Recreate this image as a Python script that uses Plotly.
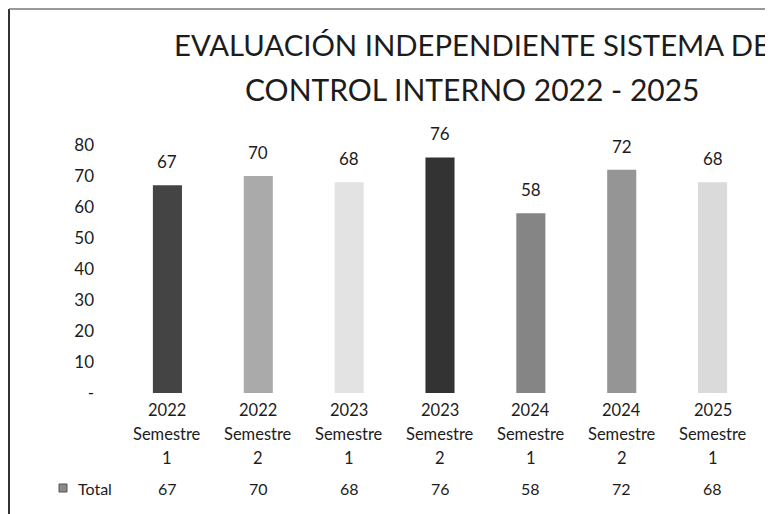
import plotly.graph_objects as go

categories = ["2022<br>Semestre<br>1", "2022<br>Semestre<br>2", "2023<br>Semestre<br>1",
              "2023<br>Semestre<br>2", "2024<br>Semestre<br>1", "2024<br>Semestre<br>2",
              "2025<br>Semestre<br>1"]
values = [67, 70, 68, 76, 58, 72, 68]
bar_colors = ["#444444", "#aaaaaa", "#e3e3e3", "#333333", "#858585", "#959595", "#dadada"]
y_ticks = [0, 10, 20, 30, 40, 50, 60, 70, 80]
y_ticktext = ["-", "10", "20", "30", "40", "50", "60", "70", "80"]
series_name = "Total"
title_lines = ["EVALUACIÓN INDEPENDIENTE SISTEMA DE", "CONTROL INTERNO 2022 - 2025"]

# page body has an 8px margin, so the figure is sized to fit the window
W, H = 765, 506
ML, MR, MT, MB = 114, 15, 137, 121
PW, PH = W - ML - MR, H - MT - MB
FONT = "Lato"
TXT = "#1c1c1c"

def px_x(p):
    return (p - ML) / PW

def px_y(p):
    return (H - MB - p) / PH

fig = go.Figure()
fig.add_trace(go.Bar(
    x=categories, y=values, marker=dict(color=bar_colors, line=dict(width=0)),
    name=series_name, showlegend=False,
))

annotations = []
label_rows = [402, 426, 450]
for c, v in zip(categories, values):
    annotations.append(dict(x=c, y=v, xref="x", yref="y", text=str(v), showarrow=False,
                            yanchor="bottom", yshift=11, font=dict(size=17, color=TXT, family=FONT)))
    annotations.append(dict(x=c, y=px_y(480), xref="x", yref="paper", text=str(v), showarrow=False,
                            yanchor="middle", font=dict(size=16, color=TXT, family=FONT)))
    for part, row in zip(c.split("<br>"), label_rows):
        annotations.append(dict(x=c, y=px_y(row), xref="x", yref="paper", text=part, showarrow=False,
                                yanchor="middle", font=dict(size=16.5, color=TXT, family=FONT)))
annotations.append(dict(x=px_x(68), y=px_y(480), xref="paper", yref="paper", text=series_name,
                        showarrow=False, xanchor="left", yanchor="middle",
                        font=dict(size=16, color=TXT, family=FONT)))
for line, yc, fs in zip(title_lines, [37, 81], [29.3, 30]):
    annotations.append(dict(x=px_x(464), y=px_y(yc), xref="paper", yref="paper", text=line,
                            showarrow=False, xanchor="center", yanchor="middle",
                            font=dict(size=fs, color=TXT, family=FONT)))

shapes = [
    dict(type="line", xref="paper", yref="paper", x0=px_x(1), x1=px_x(1), y0=px_y(1), y1=px_y(H),
         line=dict(color="#333333", width=2)),
    dict(type="line", xref="paper", yref="paper", x0=px_x(1), x1=px_x(W), y0=px_y(1), y1=px_y(1),
         line=dict(color="#777777", width=1.5)),
    dict(type="rect", xref="paper", yref="paper", x0=px_x(51), x1=px_x(59), y0=px_y(484), y1=px_y(476),
         fillcolor="#8a8a8a", line=dict(color="#555555", width=1)),
]

fig.update_layout(
    width=W, height=H, margin=dict(l=ML, r=MR, t=MT, b=MB, pad=0),
    paper_bgcolor="white", plot_bgcolor="white",
    bargap=0.68, annotations=annotations, shapes=shapes,
    font=dict(family=FONT, color=TXT),
    xaxis=dict(showgrid=False, showline=False, zeroline=False, ticks="", showticklabels=False),
    yaxis=dict(range=[0, 80], tickvals=y_ticks, ticktext=y_ticktext, showgrid=False,
               showline=False, zeroline=False, ticks="", ticklabelstandoff=27,
               tickfont=dict(size=17, color=TXT, family=FONT)),
)
fig.write_html("out.html")
